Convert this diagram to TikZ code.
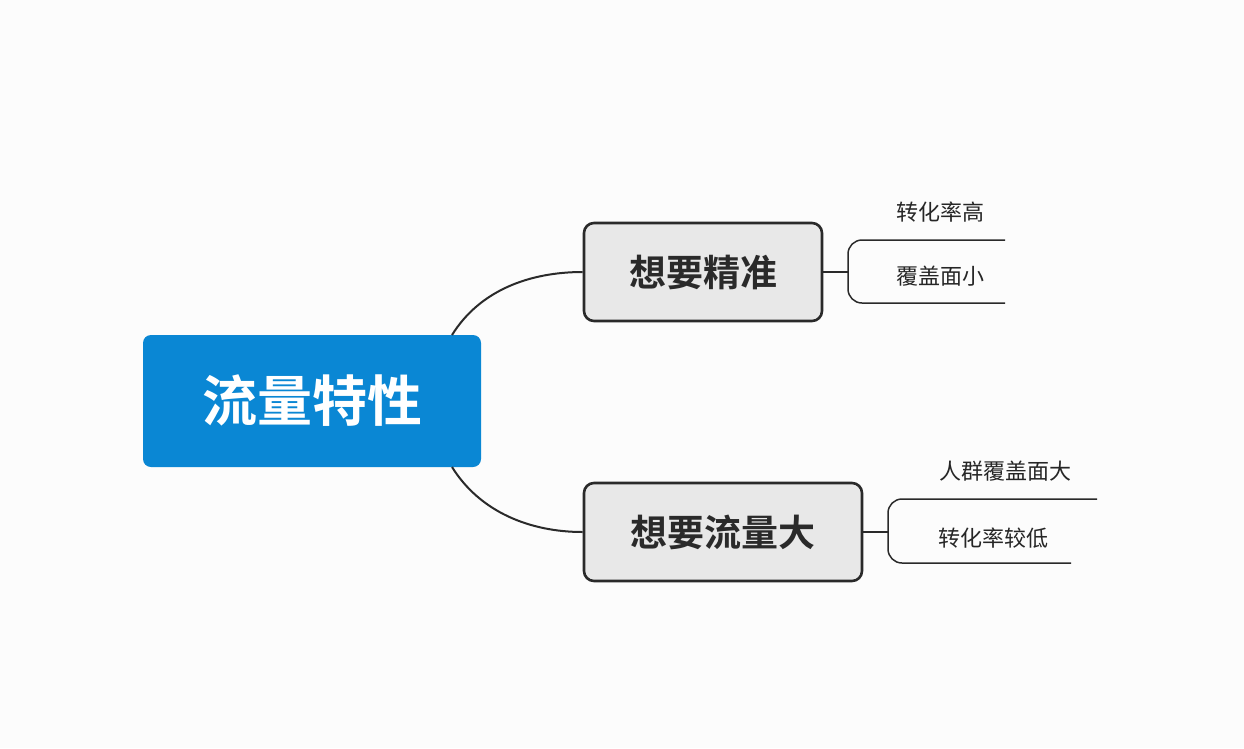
\documentclass[tikz,border=0pt]{standalone}
\usepackage{fontspec}
\newfontfamily\cjk{Noto Sans CJK SC}
\newfontfamily\cjkb{Noto Sans CJK SC Bold}
\definecolor{blu}{HTML}{0A87D4}
\definecolor{gry}{HTML}{E8E8E8}
\definecolor{dk}{HTML}{2A2A2A}
\begin{document}
\begin{tikzpicture}[x=1pt,y=-1pt,
  sub/.style={draw=dk,line width=2.6pt,fill=gry,rounded corners=10pt,inner sep=0pt},
  lbl/.style={font=\cjk\fontsize{22}{24}\selectfont,text=black!85},
  con/.style={draw=dk,line width=2pt}]
\fill[white!98!gray] (0,0) rectangle (1244,748);
\useasboundingbox (0,0) rectangle (1244,748);
\node[fill=blu,rounded corners=8pt,minimum width=338pt,minimum height=132pt,text=white,font=\cjkb\fontsize{55}{60}\selectfont] (c) at (312,401) {流量特性};
\node[sub,minimum width=238pt,minimum height=98pt,font=\cjkb\fontsize{37}{40}\selectfont,text=dk] (a) at (703,272) {想要精准};
\node[sub,minimum width=278pt,minimum height=98pt,font=\cjkb\fontsize{37}{40}\selectfont,text=dk] (b) at (723,532) {想要流量大};
\coordinate (ct) at (452,335);
\coordinate (cb) at (452,467);
\draw[con] (ct) .. controls (480,290) and (530,272) .. (a.west);
\draw[con] (cb) .. controls (480,512) and (530,532) .. (b.west);
% bracket a
\coordinate (a1) at (848,272);
\coordinate (a2) at (1005,240);
\coordinate (a3) at (1005,303);
\draw[con,line width=1.5pt] (a.east) -- (a1);
\draw[con,line width=1.5pt] (a2) -- (862,240) arc[start angle=90,end angle=180,radius=14pt] -- (848,289) arc[start angle=180,end angle=270,radius=14pt] -- (a3);
\node[lbl] (t1) at (940,212) {转化率高};
\node[lbl] (t2) at (940,276) {覆盖面小};
% bracket b
\coordinate (b1) at (888,532);
\coordinate (b2) at (1097,499);
\coordinate (b3) at (1071,563);
\draw[con,line width=1.5pt] (b.east) -- (b1);
\draw[con,line width=1.5pt] (b2) -- (902,499) arc[start angle=90,end angle=180,radius=14pt] -- (888,549) arc[start angle=180,end angle=270,radius=14pt] -- (b3);
\node[lbl] (t3) at (1005,471) {人群覆盖面大};
\node[lbl] (t4) at (993,538) {转化率较低};
\end{tikzpicture}
\end{document}
